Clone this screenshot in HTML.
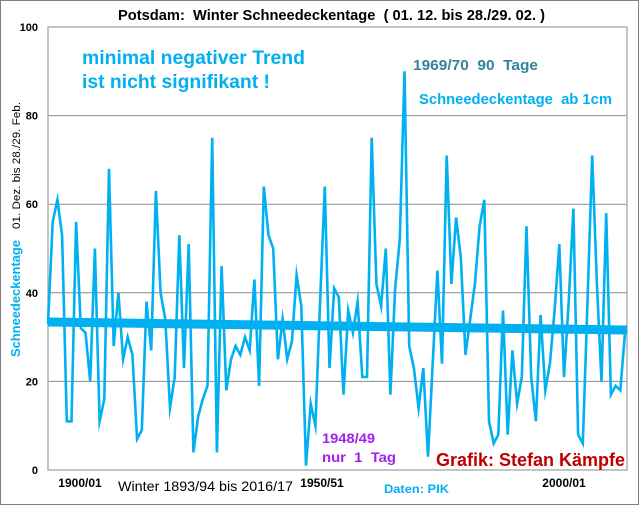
<!DOCTYPE html>
<html><head><meta charset="utf-8"><style>
body{margin:0;background:#fff;}
svg{display:block;font-family:"Liberation Sans",Arial,sans-serif;}
svg text{white-space:pre;}
</style></head><body>
<svg id="chart" width="640" height="506" viewBox="0 0 640 506">
<rect x="0.5" y="0.5" width="638" height="504" fill="#fff" stroke="#808080"/>
<text x="118" y="20" font-size="15" font-weight="bold" fill="#000" textLength="427" lengthAdjust="spacingAndGlyphs">Potsdam:  Winter Schneedeckentage  ( 01. 12. bis 28./29. 02. )</text>
<g id="grid"></g>
<rect x="48" y="27" width="579" height="443" fill="none" stroke="#b0b0b0" stroke-width="1.5"/>
<g id="yticks"></g>
<g id="xlabels"></g>
<text transform="translate(20,357) rotate(-90)" font-size="13" font-weight="bold" fill="#00b0f0" textLength="117" lengthAdjust="spacingAndGlyphs">Schneedeckentage</text>
<text transform="translate(20,229) rotate(-90)" font-size="11" fill="#000" textLength="127" lengthAdjust="spacingAndGlyphs">01. Dez. bis 28./29. Feb.</text>
<g id="series"></g>
<text x="82" y="64" font-size="19" font-weight="bold" fill="#00b0f0" textLength="223" lengthAdjust="spacingAndGlyphs">minimal negativer Trend</text>
<text x="82" y="88" font-size="19" font-weight="bold" fill="#00b0f0" textLength="188" lengthAdjust="spacingAndGlyphs">ist nicht signifikant !</text>
<text x="413" y="70" font-size="15" font-weight="bold" fill="#31859c" textLength="125" lengthAdjust="spacingAndGlyphs">1969/70  90  Tage</text>
<text x="419" y="104" font-size="15" font-weight="bold" fill="#00b0f0" textLength="193" lengthAdjust="spacingAndGlyphs">Schneedeckentage  ab 1cm</text>
<text x="322" y="443" font-size="14" font-weight="bold" fill="#a020f0" textLength="53" lengthAdjust="spacingAndGlyphs">1948/49</text>
<text x="322" y="462" font-size="14" font-weight="bold" fill="#a020f0" textLength="74" lengthAdjust="spacingAndGlyphs">nur  1  Tag</text>
<text x="436" y="466" font-size="18" font-weight="bold" fill="#c00000" textLength="189" lengthAdjust="spacingAndGlyphs">Grafik: Stefan Kämpfe</text>
<text x="118" y="491" font-size="14" fill="#000" textLength="175" lengthAdjust="spacingAndGlyphs">Winter 1893/94 bis 2016/17</text>
<text x="384" y="493" font-size="11.5" font-weight="bold" fill="#00b0f0" textLength="65" lengthAdjust="spacingAndGlyphs">Daten: PIK</text>
</svg>
<script>
const years = [];
for (let i = 0; i < 124; i++) years.push((1893 + i) + '/' + String((1894 + i) % 100).padStart(2, '0'));
const snowDays = [33,56,61,53,11,11,56,32,31,20,50,11,16,68,28,40,25,30,26,7,
9,38,27,63,40,34,14,21,53,23,51,4,12,16,19,75,4,46,18,25,
28,26,30,27,43,19,64,53,50,25,34,25,29,44,37,1,15,10,38,64,
23,41,39,17,36,31,38,21,21,75,42,37,50,17,41,52,90,28,23,14,
23,3,24,45,24,71,42,57,48,26,34,42,55,61,11,6,8,36,8,27,
15,21,55,21,11,35,18,24,36,51,21,38,59,8,6,38,71,42,20,58,
17,19,18,31];
const trendValues = [33.4, 31.6];
const yTicks = [0,20,40,60,80,100];
const xLabelYears = ['1900/01','1950/51','2000/01'];

const NS = 'http://www.w3.org/2000/svg';
const X0 = 48, X1 = 625, Y0 = 470, Y1 = 27;
function xPos(i){ return X0 + i * (X1 - X0) / (snowDays.length - 1); }
function yPos(v){ return Y0 - v * (Y0 - Y1) / 100; }
function labelX(i){ return 80 + (i - 7) * 4.84; }
function mk(tag, attrs, parent){ const e = document.createElementNS(NS, tag); for (const k in attrs) e.setAttribute(k, attrs[k]); parent.appendChild(e); return e; }

const grid = document.getElementById('grid'), yt = document.getElementById('yticks');
yTicks.forEach(v => {
  if (v > 0 && v < 100) {
    const g = mk('line', {x1: X0, x2: 627, y1: yPos(v), y2: yPos(v), stroke: '#8c8c8c', 'stroke-width': 1}, grid);
    
    
  }
  const t = mk('text', {x: 38, y: yPos(v) + 4, 'text-anchor': 'end', 'font-size': 11, 'font-weight': 'bold', fill: '#000'}, yt);
  t.textContent = v;
  
  
});

const xl = document.getElementById('xlabels');
xLabelYears.forEach(lbl => {
  const i = years.indexOf(lbl);
  const t = mk('text', {x: labelX(i), y: 487, 'text-anchor': 'middle', 'font-size': 12, 'font-weight': 'bold', fill: '#000'}, xl);
  t.textContent = lbl;
  
  
});

const s = document.getElementById('series');
const pts = snowDays.map((v, i) => xPos(i).toFixed(1) + ',' + yPos(v).toFixed(1)).join(' ');
const line = mk('polyline', {points: pts, fill: 'none', stroke: '#00b0f0', 'stroke-width': 2.6, 'stroke-linejoin': 'miter', 'stroke-miterlimit': 10}, s);


const tr = mk('line', {x1: X0, x2: 627, y1: yPos(trendValues[0]), y2: yPos(trendValues[1]), stroke: '#00b0f0', 'stroke-width': 9}, s);


</script>
</body></html>
